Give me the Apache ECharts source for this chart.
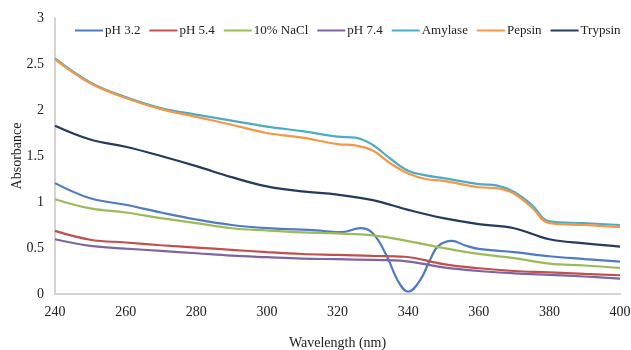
<!DOCTYPE html>
<html>
<head>
<meta charset="utf-8">
<script src="https://cdn.jsdelivr.net/npm/echarts@6/dist/echarts.min.js"></script>
<style>html,body{margin:0;padding:0;background:#fff}#c{width:631px;height:350px}</style>
</head>
<body>
<div id="c"></div>
<script>
var seriesNames = ['pH 3.2', 'pH 5.4', '10% NaCl', 'pH 7.4', 'Amylase', 'Pepsin', 'Trypsin'];
var yTicks = ['0', '0.5', '1', '1.5', '2', '2.5', '3'];

var ph32 = [[240,1.205],[250,1.04],[260,0.97],[270,0.886],[280,0.81],[290,0.75],[300,0.715],[310,0.70],[316,0.685],[321,0.672],[326.5,0.715],[330,0.66],[334,0.41],[337,0.15],[340,0.025],[343.4,0.15],[346.2,0.37],[348.5,0.52],[352.4,0.577],[356,0.53],[360,0.49],[370,0.455],[380,0.41],[390,0.38],[400,0.352]];
var ph54 = [[240,0.686],[250,0.59],[260,0.56],[270,0.53],[280,0.505],[290,0.48],[300,0.455],[310,0.435],[320,0.425],[330,0.414],[339,0.405],[350,0.325],[360,0.28],[370,0.25],[380,0.236],[390,0.218],[400,0.204]];
var nacl = [[240,1.03],[250,0.93],[260,0.886],[270,0.825],[280,0.77],[290,0.715],[300,0.69],[310,0.67],[320,0.658],[330,0.637],[340,0.575],[350,0.50],[360,0.436],[370,0.39],[380,0.33],[390,0.31],[400,0.283]];
var ph74 = [[240,0.595],[250,0.523],[260,0.494],[270,0.468],[280,0.443],[290,0.417],[300,0.40],[310,0.385],[320,0.378],[330,0.37],[339,0.358],[350,0.29],[360,0.25],[370,0.225],[380,0.207],[390,0.19],[400,0.167]];
var amylase = [[240,2.56],[250,2.30],[260,2.14],[270,2.02],[280,1.95],[290,1.885],[300,1.82],[310,1.77],[320,1.71],[325,1.70],[330,1.62],[335,1.47],[340,1.34],[345,1.29],[350,1.26],[360,1.195],[365,1.18],[370,1.11],[375,0.97],[380,0.79],[390,0.77],[400,0.75]];
var pepsin = [[240,2.55],[250,2.29],[260,2.13],[270,2.01],[280,1.925],[290,1.84],[300,1.75],[310,1.70],[320,1.63],[325,1.615],[330,1.56],[335,1.42],[340,1.31],[345,1.25],[350,1.23],[360,1.16],[365,1.15],[370,1.09],[375,0.94],[380,0.77],[390,0.75],[400,0.727]];
var trypsin = [[240,1.83],[250,1.68],[260,1.60],[270,1.50],[280,1.39],[290,1.27],[300,1.17],[310,1.115],[320,1.08],[330,1.02],[340,0.915],[350,0.825],[360,0.76],[370,0.715],[380,0.595],[390,0.55],[400,0.515]];

var colors = ['#4F7BC4', '#C0504D', '#9BBB59', '#8064A2', '#4BACC6', '#F79646', '#263A60'];
var dataList = [ph32, ph54, nacl, ph74, amylase, pepsin, trypsin];

var chart = echarts.init(document.getElementById('c'), null, {renderer: 'canvas'});
var font = 'Liberation Serif';
chart.setOption({
  animation: false,
  color: colors,
  grid: {left: 55, right: 11, top: 18, bottom: 56, containLabel: false, outerBoundsMode: 'none'},
  legend: {
    top: 19, left: 70,
    itemWidth: 28, itemHeight: 2, itemGap: 9,
    icon: 'rect',
    textStyle: {fontFamily: font, fontSize: 13, color: '#222', padding: [0,0,0,-3]},
    data: seriesNames
  },
  xAxis: {
    type: 'value', min: 240, max: 400, interval: 20,
    name: 'Wavelength (nm)', nameLocation: 'middle', nameGap: 42, nameMoveOverlap: false,
    nameTextStyle: {fontFamily: font, fontSize: 14, color: '#222'},
    axisLine: {lineStyle: {color: '#D9D3D0', width: 2}},
    axisTick: {show: false},
    splitLine: {show: false},
    axisLabel: {fontFamily: font, fontSize: 14, color: '#222', margin: 11}
  },
  yAxis: {
    type: 'value', min: 0, max: 3, interval: 0.5,
    name: 'Absorbance', nameLocation: 'middle', nameGap: 31, nameMoveOverlap: false,
    nameTextStyle: {fontFamily: font, fontSize: 14, color: '#222'},
    axisLine: {show: true, lineStyle: {color: '#D9D3D0', width: 2}},
    axisTick: {show: false},
    splitLine: {show: false},
    axisLabel: {fontFamily: font, fontSize: 14, color: '#222', margin: 11,
      formatter: function (v) { var i = Math.round(v / 0.5); return yTicks[i] !== undefined ? yTicks[i] : v; }}
  },
  series: seriesNames.map(function (n, i) {
    return {
      name: n, type: 'line', data: dataList[i], smooth: 0.4,
      showSymbol: false, symbol: 'none',
      lineStyle: {width: 2.2, color: colors[i]},
      z: 2 + i
    };
  })
});
</script>
</body>
</html>
